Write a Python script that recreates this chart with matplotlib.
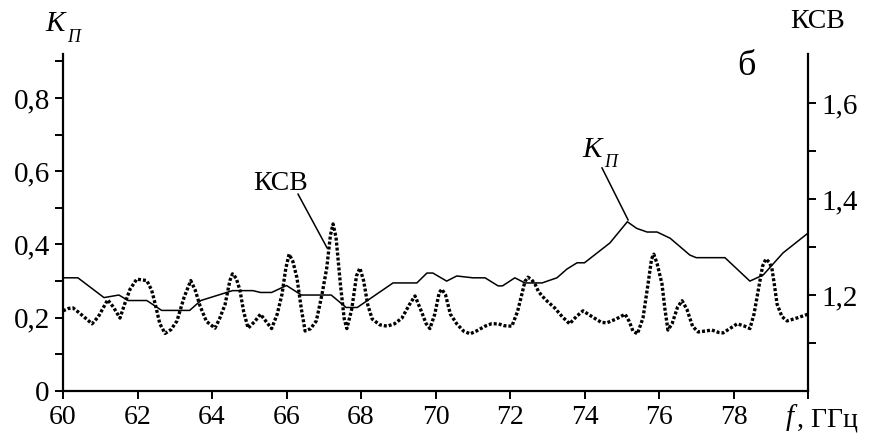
import matplotlib
matplotlib.use("Agg")
import matplotlib.pyplot as plt
from matplotlib.ticker import FixedLocator, FuncFormatter

plt.rcParams['font.family'] = ['Liberation Serif', 'DejaVu Serif']

# коэффициент передачи K_П (левая ось)
kp_f = [60.0, 60.4, 61.1, 61.5, 61.75, 62.25, 62.65, 63.4, 63.7, 64.55, 65.1, 65.3,
        65.6, 66.0, 66.4, 67.2, 67.6, 67.9, 68.86, 69.5, 69.77, 69.93, 70.3, 70.57,
        71.0, 71.33, 71.68, 71.8, 72.13, 72.4, 72.86, 73.26, 73.53, 73.8, 74.0,
        74.68, 75.15, 75.4, 75.68, 75.95, 76.3, 76.83, 77.0, 77.77, 78.44, 78.8,
        79.33, 80.0]
kp = [0.309, 0.309, 0.255, 0.262, 0.247, 0.247, 0.22, 0.22, 0.247, 0.274, 0.274,
      0.269, 0.269, 0.288, 0.262, 0.262, 0.228, 0.228, 0.295, 0.295, 0.322, 0.322,
      0.30, 0.314, 0.309, 0.309, 0.287, 0.287, 0.309, 0.295, 0.295, 0.309, 0.333,
      0.35, 0.35, 0.404, 0.462, 0.444, 0.434, 0.434, 0.417, 0.371, 0.364, 0.364,
      0.30, 0.317, 0.377, 0.431]

# КСВ (правая ось)
ksv_f = [60.0, 60.15, 60.27, 60.45, 60.78, 60.95, 61.2, 61.35, 61.53, 61.65, 61.8,
         61.98, 62.25, 62.38, 62.47, 62.6, 62.74, 62.9, 63.06, 63.25, 63.43, 63.55,
         63.68, 63.85, 64.08, 64.2, 64.35, 64.48, 64.55, 64.65, 64.75, 64.85, 64.97,
         65.15, 65.3, 65.45, 65.6, 65.75, 65.88, 65.98, 66.07, 66.17, 66.28, 66.4,
         66.5, 66.65, 66.8, 66.95, 67.08, 67.18, 67.25, 67.33, 67.45, 67.55, 67.62,
         67.75, 67.88, 67.97, 68.07, 68.18, 68.3, 68.5, 68.7, 68.9, 69.1, 69.3,
         69.45, 69.6, 69.75, 69.85, 69.98, 70.1, 70.17, 70.27, 70.4, 70.57, 70.75,
         70.93, 71.1, 71.33, 71.5, 71.68, 71.85, 72.05, 72.2, 72.32, 72.4, 72.48,
         72.58, 72.67, 72.76, 72.86, 73.0, 73.2, 73.4, 73.6, 73.78, 73.96, 74.2,
         74.45, 74.6, 74.85, 75.09, 75.2, 75.3, 75.42, 75.57, 75.7, 75.8, 75.86,
         75.95, 76.08, 76.16, 76.24, 76.35, 76.5, 76.62, 76.75, 76.9, 77.05, 77.25,
         77.42, 77.6, 77.72, 77.9, 78.1, 78.3, 78.44, 78.55, 78.66, 78.78, 78.87,
         78.96, 79.03, 79.1, 79.17, 79.3, 79.44, 79.7, 80.0]
ksv = [1.167, 1.172, 1.173, 1.162, 1.14, 1.155, 1.19, 1.175, 1.152, 1.18, 1.212,
       1.233, 1.23, 1.21, 1.183, 1.14, 1.12, 1.128, 1.146, 1.195, 1.23, 1.21,
       1.177, 1.145, 1.131, 1.15, 1.18, 1.23, 1.244, 1.235, 1.21, 1.165, 1.131,
       1.145, 1.16, 1.145, 1.13, 1.16, 1.202, 1.255, 1.285, 1.27, 1.236, 1.17,
       1.125, 1.13, 1.146, 1.2, 1.256, 1.325, 1.348, 1.32, 1.22, 1.15, 1.13,
       1.17, 1.24, 1.256, 1.23, 1.18, 1.15, 1.138, 1.135, 1.14, 1.152, 1.18,
       1.198, 1.17, 1.14, 1.13, 1.16, 1.205, 1.212, 1.2, 1.16, 1.14, 1.125,
       1.119, 1.125, 1.135, 1.14, 1.14, 1.136, 1.135, 1.165, 1.202, 1.228, 1.237,
       1.232, 1.223, 1.208, 1.198, 1.187, 1.173, 1.155, 1.14, 1.155, 1.167, 1.155,
       1.143, 1.142, 1.15, 1.16, 1.145, 1.125, 1.119, 1.152, 1.22, 1.275, 1.285,
       1.265, 1.223, 1.17, 1.127, 1.14, 1.175, 1.188, 1.17, 1.135, 1.123, 1.125,
       1.127, 1.122, 1.121, 1.13, 1.14, 1.135, 1.13, 1.16, 1.208, 1.26, 1.275,
       1.268, 1.256, 1.22, 1.181, 1.155, 1.146, 1.152, 1.16]

x_ticks = [60, 62, 64, 66, 68, 70, 72, 74, 76, 78]
kp_ticks = [0, 0.2, 0.4, 0.6, 0.8]
ksv_ticks = [1.2, 1.4, 1.6]


def comma(v, pos):
    s = ('%g' % round(v, 2))
    return s.replace('.', ',')


fig = plt.figure(figsize=(8.75, 4.37), dpi=100)
ax = fig.add_axes([63 / 875, 46 / 437, 745 / 875, 337 / 437])
ax2 = ax.twinx()

ax.plot(kp_f, kp, color='black', lw=1.1)
ax2.plot(ksv_f, ksv, color='black', lw=2.4, linestyle=(0, (0.9, 0.6)))

ax.set_xlim(60, 80)
ax.set_ylim(0, 0.92)
ax2.set_ylim(1.0, 1.702)

for a in (ax, ax2):
    a.spines['top'].set_visible(False)
    for s in a.spines.values():
        s.set_linewidth(1.6)
ax.spines['right'].set_visible(False)
ax2.spines['left'].set_visible(False)
ax2.spines['bottom'].set_visible(False)

ax.set_xticks(x_ticks + [80])
ax.set_xticklabels([str(t) for t in x_ticks] + [''])
ax.yaxis.set_major_locator(FixedLocator(kp_ticks))
ax.yaxis.set_minor_locator(FixedLocator([0.1, 0.3, 0.5, 0.7, 0.9]))
ax.yaxis.set_major_formatter(FuncFormatter(comma))
ax2.yaxis.set_major_locator(FixedLocator(ksv_ticks))
ax2.yaxis.set_minor_locator(FixedLocator([1.1, 1.3, 1.5]))
ax2.yaxis.set_major_formatter(FuncFormatter(comma))

ax.tick_params(axis='both', which='both', direction='out', length=6, width=1.4,
               labelsize=21)
ax.tick_params(axis='x', pad=4, labelsize=20)
ax2.tick_params(axis='y', which='both', direction='out', length=6, width=1.4,
                labelsize=21)

# подписи осей
fig.text(55 / 875, 1 - 24 / 437, 'K', fontsize=21, style='italic', ha='center', va='center')
fig.text(74 / 875, 1 - 37 / 437, 'П', fontsize=13, style='italic', ha='center', va='center')
fig.text(818 / 875, 1 - 22 / 437, 'КСВ', fontsize=20, ha='center', va='center')
fig.text(790 / 875, 1 - 418 / 437, 'f', fontsize=21, style='italic', ha='center', va='center')
fig.text(797 / 875, 1 - 420 / 437, ', ГГц', fontsize=20, ha='left', va='center')
ax.text(78.36, 0.885, 'б', fontsize=26, ha='center', va='center')

# выноски к кривым
ax2.annotate('КСВ', xy=(67.09, 1.298), xytext=(65.83, 1.433), fontsize=20,
             ha='center', va='center')
ax2.plot([66.31, 67.09], [1.41, 1.298], color='black', lw=1.1)
ax.text(74.2, 0.658, 'K', fontsize=21, style='italic', ha='center', va='center')
ax.text(74.7, 0.624, 'П', fontsize=13, style='italic', ha='center', va='center')
ax.plot([74.47, 75.17], [0.609, 0.467], color='black', lw=1.1)

fig.savefig('out.png', dpi=100)
